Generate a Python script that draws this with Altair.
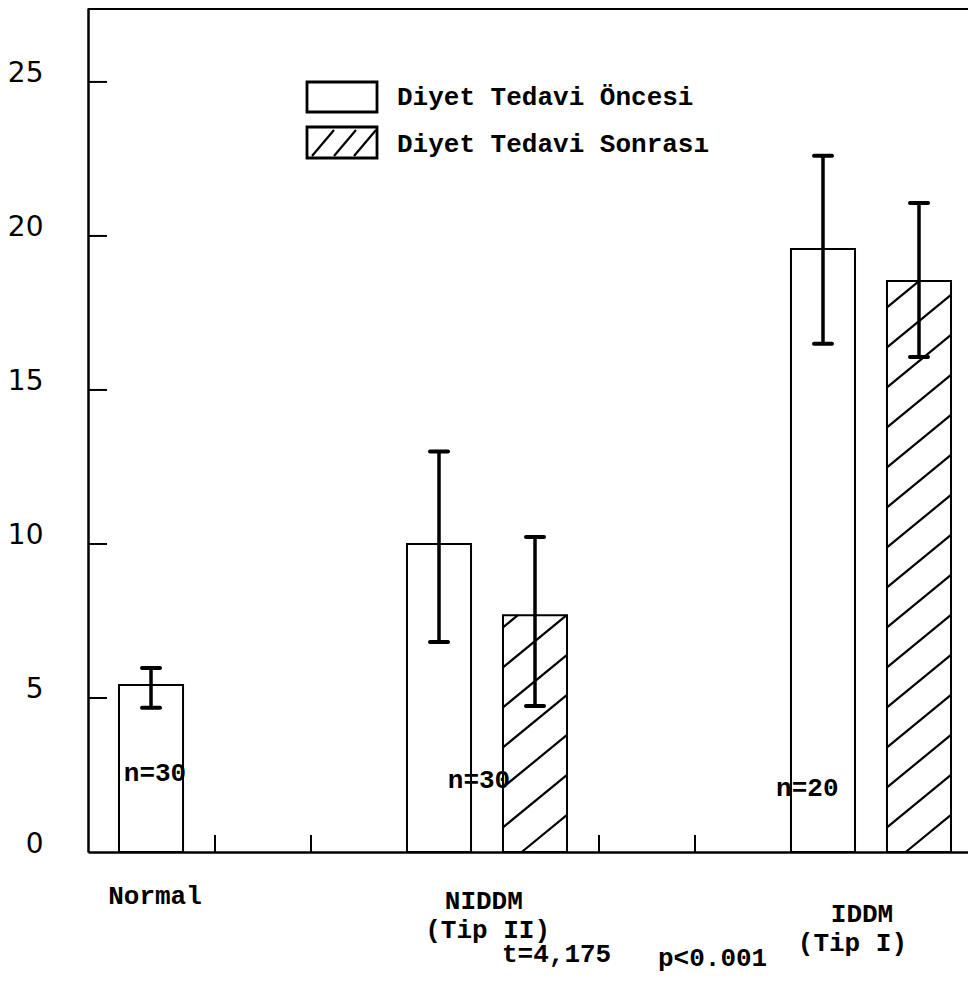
import altair as alt
import pandas as pd

# ---- data ----
groups = ["Normal", "NIDDM", "NIDDM", "IDDM", "IDDM"]
phases = ["Diyet Tedavi Öncesi", "Diyet Tedavi Öncesi", "Diyet Tedavi Sonrası",
          "Diyet Tedavi Öncesi", "Diyet Tedavi Sonrası"]
slots = [0, 3, 4, 7, 8]
means = [5.42, 10.0, 7.69, 19.58, 18.54]
err_low = [4.68, 6.82, 4.74, 16.5, 16.07]
err_high = [5.97, 13.0, 10.23, 22.6, 21.07]
hatched = [False, False, True, False, True]

y_tick_values = [0, 5, 10, 15, 20, 25]
inner_ticks = [5, 10, 15, 20, 25]
slot_ticks = [1, 2, 5, 6]

n_labels = ["n=30", "n=30", "n=20"]
n_x = [0.375, 3.75, 7.17]
n_y = [2.56, 2.34, 2.08]

cat_lines = ["Normal", "NIDDM", "(Tip II)", "IDDM", "(Tip I)"]
cat_x = [0.375, 3.80, 3.84, 7.74, 7.64]
cat_py = [888, 893, 922, 906, 935]

stat_parts = ["t=4,175", "p<0.001"]
stat_px = [414, 570]
stat_py = [946, 950]

# ---- layout ----
W, H = 880, 844
XDOM = [-0.3229, 8.844]
YDOM = [0, 27.4]
BARW = 0.667
PXX = W / (XDOM[1] - XDOM[0])
PXY = H / (YDOM[1] - YDOM[0])
MONO = "Liberation Mono"

bars = pd.DataFrame({
    "group": groups, "phase": phases, "x0": slots,
    "x1": [s + BARW for s in slots], "xc": [s + BARW / 2 for s in slots],
    "mean": means, "lo": err_low, "hi": err_high, "base": [0] * len(slots),
})

# hatch segments (clipped to each hatched bar)
slope = 0.82 * PXX / PXY      # data-y per data-x
spacing = 40 / PXY
c0 = -0.5
rows = []
for s, v, h in zip(slots, means, hatched):
    if not h:
        continue
    x0, x1 = s, s + BARW
    c = c0
    while c < v:
        xs_ = max(x0, x0 + (0 - c) / slope)
        xe_ = min(x1, x0 + (v - c) / slope)
        if xs_ < xe_:
            rows.append({"hx": xs_, "hx2": xe_,
                         "hy": c + slope * (xs_ - x0), "hy2": c + slope * (xe_ - x0)})
        c += spacing
hatch = pd.DataFrame(rows)

xs = alt.Scale(domain=XDOM, nice=False, zero=False)
ys = alt.Scale(domain=YDOM, nice=False, zero=True)

bar_layer = alt.Chart(bars).mark_rect(fill="white", stroke="black", strokeWidth=2).encode(
    x=alt.X("x0:Q", scale=xs, axis=alt.Axis(labels=False, ticks=False, grid=False, title=None,
                                            domainColor="black", domainWidth=2.5)),
    x2="x1:Q",
    y=alt.Y("mean:Q", scale=ys, axis=alt.Axis(values=y_tick_values, ticks=False, grid=False,
                                              title=None, labelFont="DejaVu Sans",
                                              labelFontSize=28, labelColor="black",
                                              labelPadding=45, labelOffset=-8,
                                              domainColor="black", domainWidth=2.5)),
    y2="base:Q",
)

hatch_layer = alt.Chart(hatch).mark_rule(color="black", strokeWidth=2.2).encode(
    x="hx:Q", x2="hx2:Q", y="hy:Q", y2="hy2:Q")

err_layer = alt.Chart(bars).mark_rule(color="black", strokeWidth=3.5).encode(
    x="xc:Q", y="lo:Q", y2="hi:Q")
cap_lo = alt.Chart(bars).mark_rule(color="black", strokeWidth=4, strokeCap="round",
                                   xOffset=-9, x2Offset=9).encode(x="xc:Q", x2="xc:Q", y="lo:Q")
cap_hi = alt.Chart(bars).mark_rule(color="black", strokeWidth=4, strokeCap="round",
                                   xOffset=-9, x2Offset=9).encode(x="xc:Q", x2="xc:Q", y="hi:Q")

ytick_layer = alt.Chart(pd.DataFrame({"t": inner_ticks})).mark_rule(
    color="black", strokeWidth=2).encode(x=alt.value(0), x2=alt.value(19), y="t:Q")
xtick_layer = alt.Chart(pd.DataFrame({"t": slot_ticks})).mark_rule(
    color="black", strokeWidth=2).encode(x="t:Q", y=alt.value(H), y2=alt.value(H - 17))

one = pd.DataFrame({"a": [0]})
top_frame = alt.Chart(one).mark_rule(color="black", strokeWidth=2).encode(
    x=alt.value(0), x2=alt.value(W), y=alt.value(1))

# legend (drawn)
box1 = alt.Chart(one).mark_rect(fill="white", stroke="black", strokeWidth=2.8).encode(
    x=alt.value(219), x2=alt.value(289), y=alt.value(74), y2=alt.value(104))
box2 = alt.Chart(one).mark_rect(fill="white", stroke="black", strokeWidth=2.8).encode(
    x=alt.value(219), x2=alt.value(289), y=alt.value(119), y2=alt.value(150))
lh = [alt.Chart(one).mark_rule(color="black", strokeWidth=2.2).encode(
        x=alt.value(a), x2=alt.value(a + 22), y=alt.value(148), y2=alt.value(122))
      for a in (224, 246, 266)]
leg_txt1 = alt.Chart(one).mark_text(text="Diyet Tedavi Öncesi", font=MONO, fontSize=26,
                                    fontWeight="bold", align="left", baseline="middle").encode(
    x=alt.value(309), y=alt.value(89))
leg_txt2 = alt.Chart(one).mark_text(text="Diyet Tedavi Sonrası", font=MONO, fontSize=26,
                                    fontWeight="bold", align="left", baseline="middle").encode(
    x=alt.value(309), y=alt.value(136))

n_layer = alt.Chart(pd.DataFrame({"t": n_labels, "x": n_x, "y": n_y})).mark_text(
    font=MONO, fontSize=26, fontWeight="bold", align="center", baseline="middle").encode(
    x="x:Q", y="y:Q", text="t:N")

cat_layer = alt.Chart(pd.DataFrame({"t": cat_lines, "x": cat_x, "py": cat_py})).mark_text(
    font=MONO, fontSize=26, fontWeight="bold", align="center", baseline="middle").encode(
    x="x:Q", y=alt.Y("py:Q", scale=None), text="t:N")

stat_layer = alt.Chart(pd.DataFrame({"t": stat_parts, "px": stat_px, "py": stat_py})).mark_text(
    font=MONO, fontSize=26, fontWeight="bold", align="left", baseline="middle").encode(
    x=alt.X("px:Q", scale=None), y=alt.Y("py:Q", scale=None), text="t:N")

chart = alt.layer(
    bar_layer, hatch_layer, err_layer, cap_lo, cap_hi, ytick_layer, xtick_layer, top_frame,
    box1, box2, *lh, leg_txt1, leg_txt2, n_layer, cat_layer, stat_layer,
).properties(
    width=W, height=H,
    autosize=alt.AutoSizeParams(type="none"),
    padding={"left": 80, "top": 0, "right": 0, "bottom": 122},
).configure_view(stroke=None)

chart.save("out.html", embed_options={"renderer": "svg", "actions": False})
